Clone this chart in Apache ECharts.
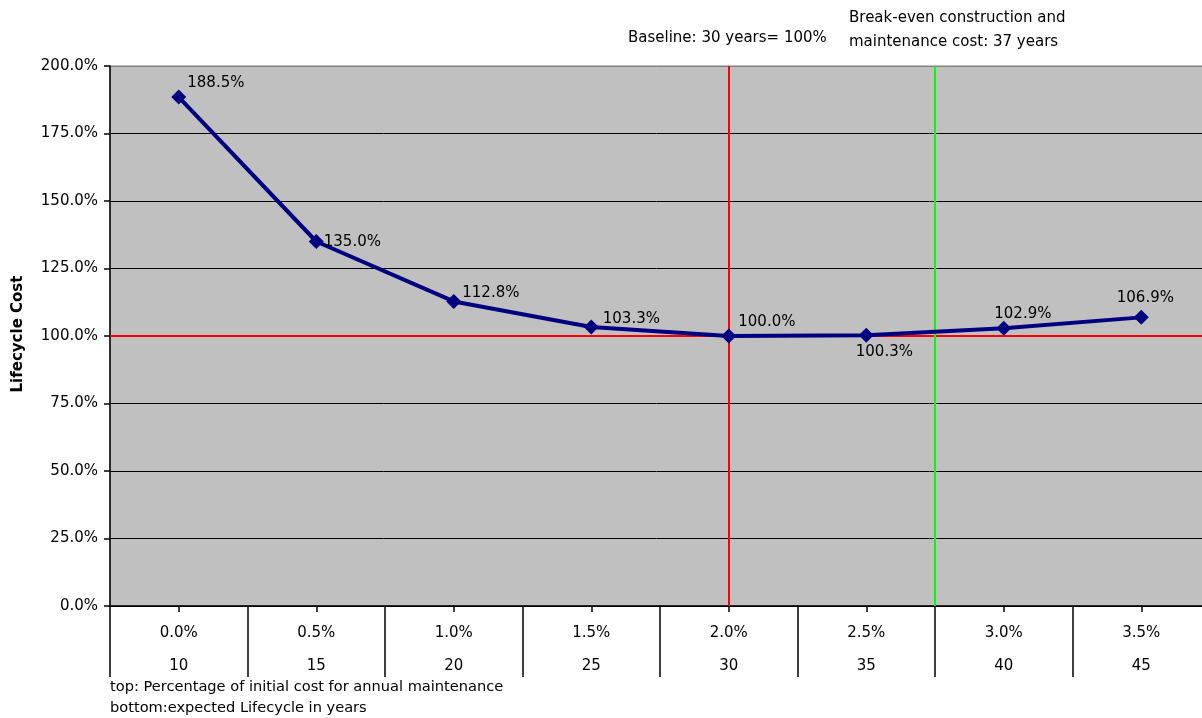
<!DOCTYPE html>
<html>
<head>
<meta charset="utf-8">
<script src="https://cdn.jsdelivr.net/npm/echarts@6/dist/echarts.min.js"></script>
<style>
  html, body { margin: 0; padding: 0; background: #fff; overflow: hidden; }
  #chart { width: 1202px; height: 718px; }
</style>
</head>
<body>
<div id="chart"></div>
<script>
// Annual maintenance share of initial cost (top row) and expected lifecycle (bottom row)
const maintenancePct = ['0.0%', '0.5%', '1.0%', '1.5%', '2.0%', '2.5%', '3.0%', '3.5%'];
const lifecycleYears = ['10', '15', '20', '25', '30', '35', '40', '45'];
// Lifecycle cost relative to the 30-year baseline, in percent
const lifecycleCost = [188.5, 135.0, 112.8, 103.3, 100.0, 100.3, 102.9, 106.9];
// Reference lines
const baselineCost = 100;
const baselineYears = 30;
const breakEvenYears = 37.5;
const yTicks = [0, 25, 50, 75, 100, 125, 150, 175, 200];

// Per-point label nudges so the labels sit clear of the line
const labelOffsets = [[1, -14], [0, 1], [1, -8], [4, -8], [2, -14], [-18, 17], [-17, -14], [-32, -19]];

const FONT = '"DejaVu Sans", "Liberation Sans", Arial, sans-serif';
const chart = echarts.init(document.getElementById('chart'), null, { renderer: 'canvas' });

const seriesData = lifecycleCost.map((v, i) => ({
  value: v,
  label: { offset: labelOffsets[i] }
}));

chart.setOption({
  animation: false,
  backgroundColor: '#ffffff',
  grid: {
    left: 110, top: 66, width: 1100, height: 540,
    outerBoundsMode: 'none', containLabel: false,
    show: true, backgroundColor: '#c0c0c0', borderColor: '#808080', borderWidth: 1
  },
  xAxis: [
    {
      type: 'category', data: maintenancePct, position: 'bottom',
      boundaryGap: true,
      axisLine: { show: true, lineStyle: { color: '#000', width: 1.5 } },
      axisTick: { show: true, length: 71, alignWithLabel: false, lineStyle: { color: '#000', width: 1.5 } },
      axisLabel: { margin: 20, color: '#000', fontSize: 15, fontFamily: FONT, interval: 0 },
      splitLine: { show: false }
    },
    {
      type: 'category', data: lifecycleYears, position: 'bottom',
      boundaryGap: true,
      axisLine: { show: false },
      axisTick: { show: true, length: 6, alignWithLabel: true, lineStyle: { color: '#000', width: 1.5 } },
      axisLabel: { margin: 53, color: '#000', fontSize: 15, fontFamily: FONT, interval: 0 },
      splitLine: { show: false }
    },
    {
      // hidden year scale for the reference lines (category slots span 7.5..47.5 years)
      type: 'value', min: 7.5, max: 47.5, show: false
    }
  ],
  yAxis: {
    type: 'value', min: yTicks[0], max: yTicks[yTicks.length - 1], interval: 25,
    axisLine: { show: true, lineStyle: { color: '#000', width: 1.5 } },
    axisTick: { show: true, length: 6, lineStyle: { color: '#000', width: 1.5 } },
    axisLabel: {
      margin: 12, color: '#000', fontSize: 15, fontFamily: FONT,
      formatter: v => v.toFixed(1) + '%'
    },
    splitLine: {
      show: true,
      lineStyle: { color: ['#000', '#000', '#000', '#000', '#000', '#000', '#000', '#000', '#808080'], width: 1 }
    }
  },
  series: [
    {
      type: 'line',
      xAxisIndex: 2,
      data: [],
      markLine: {
        silent: true, symbol: 'none', label: { show: false },
        data: [
          { yAxis: baselineCost, lineStyle: { color: '#ff0000', width: 2, type: 'solid' } },
          { xAxis: baselineYears, lineStyle: { color: '#ff0000', width: 2, type: 'solid' } },
          { xAxis: breakEvenYears, lineStyle: { color: '#00ff00', width: 2, type: 'solid' } }
        ]
      },
      z: 2
    },
    {
      type: 'line',
      xAxisIndex: 0,
      data: seriesData,
      symbol: 'diamond', symbolSize: 15,
      lineStyle: { color: '#000080', width: 4 },
      itemStyle: { color: '#000080' },
      label: {
        show: true, position: 'right', distance: 0,
        color: '#000', fontSize: 15, fontFamily: FONT,
        formatter: p => p.value.toFixed(1) + '%'
      },
      z: 5
    }
  ],
  graphic: [
    {
      type: 'text', x: 18, y: 334, rotation: Math.PI / 2,
      style: { text: 'Lifecycle Cost', font: 'bold 15px ' + FONT, fill: '#000', textAlign: 'center', textVerticalAlign: 'middle' }
    },
    {
      type: 'text', x: 628, y: 38,
      style: { text: 'Baseline: 30 years= 100%', font: '15px ' + FONT, fill: '#000', textAlign: 'left', textVerticalAlign: 'middle' }
    },
    {
      type: 'text', x: 849, y: 18,
      style: { text: 'Break-even construction and', font: '15px ' + FONT, fill: '#000', textAlign: 'left', textVerticalAlign: 'middle' }
    },
    {
      type: 'text', x: 849, y: 42,
      style: { text: 'maintenance cost: 37 years', font: '15px ' + FONT, fill: '#000', textAlign: 'left', textVerticalAlign: 'middle' }
    },
    {
      type: 'text', x: 110, y: 687,
      style: { text: 'top: Percentage of initial cost for annual maintenance', font: '14.6px ' + FONT, fill: '#000', textAlign: 'left', textVerticalAlign: 'middle' }
    },
    {
      type: 'text', x: 110, y: 708,
      style: { text: 'bottom:expected Lifecycle in years', font: '14.6px ' + FONT, fill: '#000', textAlign: 'left', textVerticalAlign: 'middle' }
    }
  ]
});
</script>
</body>
</html>
